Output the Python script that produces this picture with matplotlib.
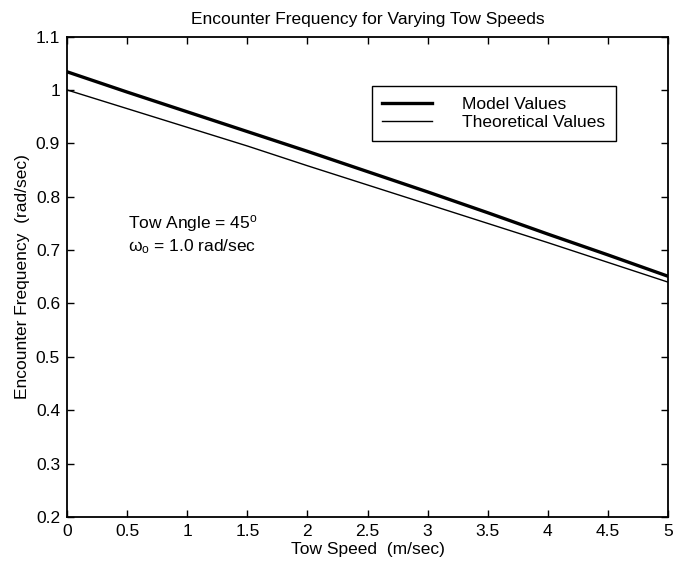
import matplotlib.pyplot as plt

plt.rcParams['font.family'] = ['Liberation Sans', 'DejaVu Sans']
plt.rcParams['mathtext.fontset'] = 'custom'
plt.rcParams['mathtext.rm'] = 'Liberation Sans'
plt.rcParams['mathtext.it'] = 'Liberation Sans'

# Tow speed (m/sec)
towSpeed = [0, 0.5, 1, 1.5, 2, 2.5, 3, 3.5, 4, 4.5, 5]
# encounter frequency (rad/sec)
modelValues = [1.034, 0.996, 0.959, 0.922, 0.885, 0.847, 0.809, 0.770, 0.730, 0.691, 0.651]
theoValues = [1.000, 0.965, 0.930, 0.895, 0.858, 0.822, 0.786, 0.750, 0.714, 0.677, 0.640]

xTicks = [0, 0.5, 1, 1.5, 2, 2.5, 3, 3.5, 4, 4.5, 5]
xTickLabels = ['0', '0.5', '1', '1.5', '2', '2.5', '3', '3.5', '4', '4.5', '5']
yTicks = [0.2, 0.3, 0.4, 0.5, 0.6, 0.7, 0.8, 0.9, 1.0, 1.1]
yTickLabels = ['0.2', '0.3', '0.4', '0.5', '0.6', '0.7', '0.8', '0.9', '1', '1.1']

fig = plt.figure(figsize=(6.73, 5.71), dpi=100)
ax = fig.add_axes([0.0996, 0.0945, 0.893, 0.8415])

ax.plot(towSpeed, modelValues, color='black', linewidth=2.4, label='Model Values')
ax.plot(towSpeed, theoValues, color='black', linewidth=1.0, label='Theoretical Values')

ax.set_xlim(0, 5)
ax.set_ylim(0.2, 1.1)
ax.set_xticks(xTicks)
ax.set_xticklabels(xTickLabels)
ax.set_yticks(yTicks)
ax.set_yticklabels(yTickLabels)
ax.tick_params(direction='in', top=True, right=True, labelsize=12.5, length=5, width=1, pad=5)
for s in ax.spines.values():
    s.set_linewidth(1.3)

ax.set_title('Encounter Frequency for Varying Tow Speeds', fontsize=12.5, pad=9)
ax.set_xlabel('Tow Speed  (m/sec)', fontsize=12.5, labelpad=2)
ax.set_ylabel('Encounter Frequency  (rad/sec)', fontsize=12.5, labelpad=4)

ax.text(0.51, 0.741, 'Tow Angle = 45$^{\\rm o}$', fontsize=12.5, va='baseline')
ax.text(0.51, 0.697, '$\\omega_{\\rm o}$ = 1.0 rad/sec', fontsize=12.5, va='baseline')

leg = ax.legend(loc='upper left', bbox_to_anchor=(0.507, 0.897), fontsize=12.5,
                frameon=True, fancybox=False, edgecolor='black', framealpha=1,
                handlelength=2.9, handletextpad=1.7, borderpad=0.6, labelspacing=0.2,
                borderaxespad=0)
leg.get_frame().set_linewidth(1.0)

plt.savefig('out.png', dpi=100)
